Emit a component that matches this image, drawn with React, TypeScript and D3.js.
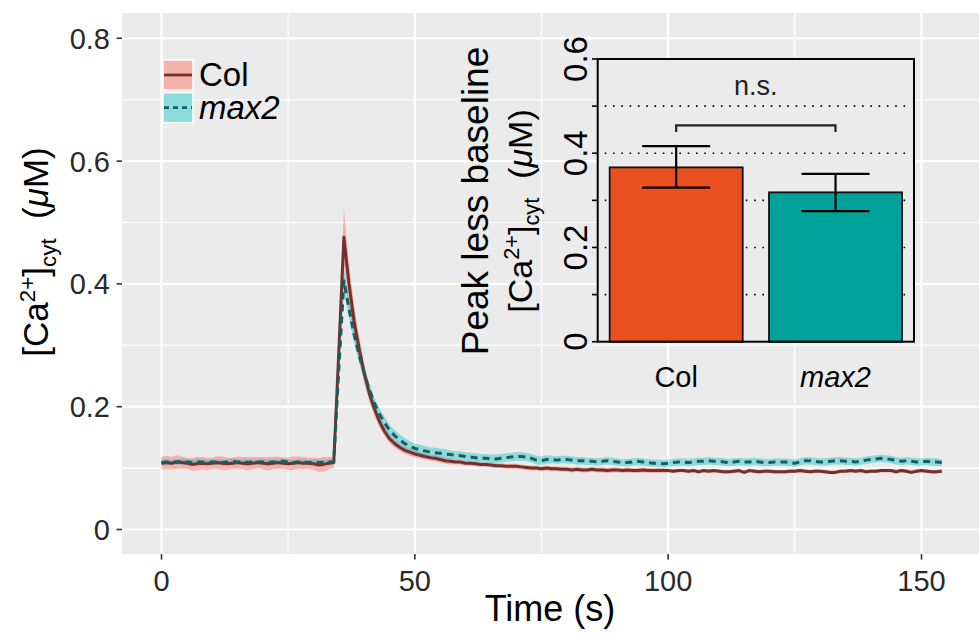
import React from "react";
import * as d3 from "d3";

// time course, one value per second (0..154 s)
const colMean = [
  0.108, 0.109, 0.108, 0.110, 0.109, 0.108, 0.106, 0.107, 0.108, 0.107,
  0.108, 0.109, 0.108, 0.107, 0.108, 0.109, 0.108, 0.107, 0.108, 0.109,
  0.108, 0.107, 0.108, 0.109, 0.108, 0.107, 0.108, 0.109, 0.108, 0.108,
  0.107, 0.105, 0.106, 0.108, 0.109, 0.292, 0.476, 0.400, 0.340, 0.295,
  0.255, 0.222, 0.197, 0.176, 0.160, 0.148, 0.140, 0.134, 0.129, 0.126,
  0.123, 0.121, 0.119, 0.117, 0.116, 0.114, 0.112, 0.111, 0.110, 0.110,
  0.108, 0.108, 0.107, 0.106, 0.106, 0.105, 0.104, 0.104, 0.103, 0.103,
  0.103, 0.102, 0.101, 0.100, 0.100, 0.099, 0.100, 0.099, 0.099, 0.098,
  0.098, 0.097, 0.098, 0.097, 0.097, 0.098, 0.097, 0.097, 0.096, 0.097,
  0.097, 0.096, 0.097, 0.096, 0.096, 0.097, 0.096, 0.096, 0.096, 0.096,
  0.096, 0.095, 0.096, 0.096, 0.095, 0.096, 0.094, 0.096, 0.095, 0.096,
  0.095, 0.094, 0.094, 0.095, 0.096, 0.093, 0.096, 0.095, 0.094, 0.095,
  0.095, 0.094, 0.094, 0.094, 0.095, 0.095, 0.096, 0.095, 0.094, 0.095,
  0.095, 0.094, 0.093, 0.093, 0.095, 0.095, 0.096, 0.095, 0.096, 0.094,
  0.095, 0.095, 0.096, 0.096, 0.096, 0.094, 0.096, 0.095, 0.093, 0.095,
  0.096, 0.095, 0.094, 0.094, 0.095,
];
const colSE = [
  0.010, 0.011, 0.010, 0.011, 0.010, 0.009, 0.010, 0.011, 0.010, 0.010,
  0.009, 0.010, 0.011, 0.010, 0.009, 0.010, 0.010, 0.011, 0.010, 0.009,
  0.010, 0.011, 0.010, 0.010, 0.009, 0.010, 0.011, 0.010, 0.010, 0.009,
  0.010, 0.011, 0.012, 0.010, 0.009, 0.030, 0.045, 0.034, 0.026, 0.020,
  0.016, 0.013, 0.011, 0.009, 0.008, 0.007, 0.007, 0.006, 0.006, 0.006,
  0.006, 0.005, 0.005, 0.005, 0.005, 0.005, 0.005, 0.005, 0.004, 0.004,
  0.004, 0.004, 0.004, 0.004, 0.004, 0.004, 0.004, 0.004, 0.004, 0.004,
  0.004, 0.004, 0.004, 0.004, 0.004, 0.004, 0.004, 0.004, 0.004, 0.004,
  0.004, 0.004, 0.004, 0.004, 0.004, 0.004, 0.004, 0.004, 0.004, 0.004,
  0.004, 0.004, 0.004, 0.004, 0.004, 0.004, 0.004, 0.004, 0.004, 0.004,
  0.003, 0.003, 0.003, 0.003, 0.003, 0.003, 0.003, 0.003, 0.003, 0.003,
  0.003, 0.003, 0.003, 0.003, 0.003, 0.003, 0.003, 0.003, 0.003, 0.003,
  0.003, 0.003, 0.003, 0.003, 0.003, 0.003, 0.003, 0.003, 0.003, 0.003,
  0.003, 0.003, 0.003, 0.003, 0.003, 0.003, 0.003, 0.003, 0.003, 0.003,
  0.003, 0.003, 0.003, 0.003, 0.003, 0.003, 0.003, 0.003, 0.003, 0.003,
  0.003, 0.003, 0.003, 0.003, 0.003,
];
const max2Mean = [
  0.109, 0.110, 0.109, 0.110, 0.111, 0.110, 0.109, 0.110, 0.110, 0.109,
  0.110, 0.110, 0.109, 0.110, 0.111, 0.110, 0.110, 0.109, 0.110, 0.110,
  0.110, 0.109, 0.110, 0.110, 0.111, 0.110, 0.109, 0.110, 0.110, 0.109,
  0.110, 0.109, 0.109, 0.110, 0.110, 0.262, 0.405, 0.360, 0.318, 0.284,
  0.255, 0.228, 0.206, 0.188, 0.174, 0.162, 0.153, 0.146, 0.140, 0.136,
  0.132, 0.130, 0.128, 0.126, 0.125, 0.124, 0.123, 0.122, 0.121, 0.120,
  0.119, 0.118, 0.117, 0.116, 0.116, 0.115, 0.115, 0.116, 0.117, 0.118,
  0.119, 0.119, 0.118, 0.116, 0.113, 0.112, 0.114, 0.114, 0.113, 0.114,
  0.114, 0.113, 0.112, 0.112, 0.111, 0.111, 0.110, 0.111, 0.112, 0.111,
  0.110, 0.109, 0.109, 0.110, 0.111, 0.110, 0.109, 0.108, 0.108, 0.107,
  0.108, 0.109, 0.110, 0.110, 0.109, 0.110, 0.111, 0.111, 0.112, 0.111,
  0.111, 0.110, 0.109, 0.110, 0.111, 0.110, 0.110, 0.111, 0.110, 0.109,
  0.109, 0.110, 0.110, 0.110, 0.109, 0.108, 0.110, 0.112, 0.112, 0.111,
  0.110, 0.110, 0.111, 0.112, 0.112, 0.111, 0.111, 0.110, 0.111, 0.113,
  0.114, 0.115, 0.116, 0.115, 0.114, 0.112, 0.111, 0.112, 0.111, 0.110,
  0.110, 0.111, 0.110, 0.110, 0.109,
];
const max2SE = [
  0.004, 0.005, 0.004, 0.004, 0.005, 0.004, 0.004, 0.005, 0.004, 0.004,
  0.004, 0.005, 0.004, 0.004, 0.005, 0.004, 0.004, 0.005, 0.004, 0.004,
  0.004, 0.005, 0.004, 0.004, 0.005, 0.004, 0.004, 0.005, 0.004, 0.004,
  0.004, 0.005, 0.004, 0.004, 0.004, 0.013, 0.018, 0.015, 0.013, 0.012,
  0.011, 0.011, 0.010, 0.010, 0.010, 0.009, 0.009, 0.009, 0.009, 0.008,
  0.008, 0.008, 0.008, 0.008, 0.008, 0.008, 0.008, 0.007, 0.007, 0.007,
  0.007, 0.007, 0.007, 0.007, 0.007, 0.007, 0.007, 0.007, 0.007, 0.007,
  0.007, 0.007, 0.007, 0.007, 0.007, 0.007, 0.007, 0.006, 0.006, 0.006,
  0.006, 0.006, 0.006, 0.006, 0.006, 0.006, 0.006, 0.006, 0.006, 0.006,
  0.006, 0.006, 0.006, 0.006, 0.006, 0.006, 0.006, 0.006, 0.006, 0.006,
  0.006, 0.006, 0.006, 0.006, 0.006, 0.006, 0.006, 0.006, 0.006, 0.006,
  0.006, 0.006, 0.006, 0.006, 0.006, 0.006, 0.006, 0.006, 0.006, 0.006,
  0.006, 0.006, 0.006, 0.006, 0.006, 0.006, 0.006, 0.006, 0.006, 0.006,
  0.006, 0.006, 0.006, 0.006, 0.006, 0.006, 0.006, 0.006, 0.006, 0.006,
  0.006, 0.006, 0.006, 0.006, 0.006, 0.006, 0.006, 0.006, 0.006, 0.006,
  0.006, 0.006, 0.006, 0.006, 0.006,
];

const xMajor = [0, 50, 100, 150];
const xMinor = [25, 75, 125];
const yMajor = [0, 0.2, 0.4, 0.6, 0.8];
const yMinor = [0.1, 0.3, 0.5, 0.7];

// inset bar chart
const barGroups = ["Col", "max2"];
const barMeans = [0.37, 0.317];
const barLow = [0.327, 0.277];
const barHigh = [0.415, 0.356];
const insetTicks = [0, 0.1, 0.2, 0.3, 0.4, 0.5, 0.6];
const insetLabels = [0, 0.2, 0.4, 0.6];
const insetGrid = [0.1, 0.2, 0.3, 0.4, 0.5];

const FONT = "'Liberation Sans', Arial, Helvetica, sans-serif";

const W = 979;
const H = 635;
const panel = { left: 122, right: 979, top: 12.9, bottom: 554.1 };

const x = d3.scaleLinear().domain([0, 150]).range([161.5, 921.5]);
const y = d3.scaleLinear().domain([0, 0.8]).range([529.5, 38.3]);

const series = [
  { key: "Col", mean: colMean, se: colSE, fill: "#F8766D", fillOp: 0.5, keyOp: 0.52, stroke: "#72302E", dash: null },
  { key: "max2", mean: max2Mean, se: max2SE, fill: "#00BFC4", fillOp: 0.4, keyOp: 0.42, stroke: "#1B5C60", dash: "7 5" },
];

const CaLabel = ({ size }: { size: number }) => {
  const small = size * 0.64;
  return (
    <>
      <tspan>[Ca</tspan>
      <tspan fontSize={small} dy={-size * 0.38}>2+</tspan>
      <tspan dy={size * 0.38}>]</tspan>
      <tspan fontSize={small} dy={size * 0.22}>cyt</tspan>
      <tspan dy={-size * 0.22}>{"\u00a0 ("}</tspan>
      <tspan fontStyle="italic">μ</tspan>
      <tspan>M)</tspan>
    </>
  );
};

const Inset = () => {
  const x0 = 597.7, x1 = 914, y0 = 59, y1 = 341.7;
  const iy = d3.scaleLinear().domain([0, 0.6]).range([y1, y0]);
  const band = d3.scaleBand().domain(barGroups).range([x0, x1]).paddingInner(0.165).paddingOuter(0.075);
  const fills = ["#E9501F", "#00A29A"];
  const c1 = band("Col")! + band.bandwidth() / 2;
  const c2 = band("max2")! + band.bandwidth() / 2;
  return (
    <g fontFamily={FONT}>
      <rect x={x0} y={y0} width={x1 - x0} height={y1 - y0} fill="#EBEBEB" />
      {insetGrid.map((v) => (
        <line key={v} x1={x0 + 7} x2={x1 - 6} y1={iy(v)} y2={iy(v)} stroke="#000" strokeWidth={1.6} strokeDasharray="1.6 6.7" />
      ))}
      {barGroups.map((g, i) => (
        <rect key={g} x={band(g)} y={iy(barMeans[i])} width={band.bandwidth()} height={iy(0) - iy(barMeans[i])}
          fill={fills[i]} stroke="#111" strokeWidth={1.8} />
      ))}
      {barGroups.map((g, i) => {
        const c = band(g)! + band.bandwidth() / 2;
        return (
          <g key={g} stroke="#000" strokeWidth={2.2}>
            <line x1={c} x2={c} y1={iy(barLow[i])} y2={iy(barHigh[i])} />
            <line x1={c - 34} x2={c + 34} y1={iy(barLow[i])} y2={iy(barLow[i])} />
            <line x1={c - 34} x2={c + 34} y1={iy(barHigh[i])} y2={iy(barHigh[i])} />
          </g>
        );
      })}
      <path d={`M${c1},${iy(0.445)}V${iy(0.459)}H${c2}V${iy(0.445)}`} fill="none" stroke="#222" strokeWidth={2.2} />
      <text x={(c1 + c2) / 2} y={95} textAnchor="middle" fontSize={27} fill="#222">n.s.</text>
      <rect x={x0} y={y0} width={x1 - x0} height={y1 - y0} fill="none" stroke="#000" strokeWidth={2} />
      {insetTicks.map((v) => (
        <line key={v} x1={592} x2={x0} y1={iy(v)} y2={iy(v)} stroke="#000" strokeWidth={1.6} />
      ))}
      {insetLabels.map((v) => (
        <text key={v} transform={`translate(587,${iy(v)}) rotate(-90)`} textAnchor="middle" fontSize={33} fill="#000">
          {v === 0 ? "0" : v.toFixed(1)}
        </text>
      ))}
      {barGroups.map((g) => (
        <text key={g} x={band(g)! + band.bandwidth() / 2} y={387} textAnchor="middle" fontSize={29}
          fontStyle={g === "max2" ? "italic" : "normal"} fill="#000">{g}</text>
      ))}
      <text transform="translate(488,201) rotate(-90)" textAnchor="middle" fontSize={37} fill="#000">Peak less baseline</text>
      <text transform="translate(532,211) rotate(-90)" textAnchor="middle" fontSize={34} fill="#000">
        <CaLabel size={34} />
      </text>
    </g>
  );
};

export default function App() {
  const area = (s: typeof series[0]) =>
    d3.area<number>()
      .x((_, i) => x(i))
      .y0((d, i) => y(d - s.se[i]))
      .y1((d, i) => y(d + s.se[i]))(s.mean) || "";
  const line = d3.line<number>().x((_, i) => x(i)).y((d) => y(d));

  return (
    <svg width={W} height={H} style={{ position: "absolute", left: 0, top: 0, background: "#fff" }} fontFamily={FONT}>
      <defs>
        <clipPath id="pclip">
          <rect x={panel.left} y={panel.top} width={panel.right - panel.left} height={panel.bottom - panel.top} />
        </clipPath>
      </defs>
      <rect x={panel.left} y={panel.top} width={panel.right - panel.left} height={panel.bottom - panel.top} fill="#EBEBEB" />
      {xMinor.map((v) => (
        <line key={"xm" + v} x1={x(v)} x2={x(v)} y1={panel.top} y2={panel.bottom} stroke="#fff" strokeWidth={1.1} />
      ))}
      {yMinor.map((v) => (
        <line key={"ym" + v} x1={panel.left} x2={panel.right} y1={y(v)} y2={y(v)} stroke="#fff" strokeWidth={1.1} />
      ))}
      {xMajor.map((v) => (
        <line key={"xM" + v} x1={x(v)} x2={x(v)} y1={panel.top} y2={panel.bottom} stroke="#fff" strokeWidth={2.2} />
      ))}
      {yMajor.map((v) => (
        <line key={"yM" + v} x1={panel.left} x2={panel.right} y1={y(v)} y2={y(v)} stroke="#fff" strokeWidth={2.2} />
      ))}

      <g clipPath="url(#pclip)">
        {series.map((s) => (
          <path key={s.key + "r"} d={area(s)} fill={s.fill} fillOpacity={s.fillOp} />
        ))}
        {series.map((s) => (
          <path key={s.key + "l"} d={line(s.mean) || ""} fill="none" stroke={s.stroke} strokeWidth={3}
            strokeDasharray={s.dash || undefined} strokeLinejoin="round" />
        ))}
      </g>

      {/* legend */}
      {series.map((s, i) => {
        const ky = 60 + i * 32.7;
        return (
          <g key={s.key}>
            <rect x={163} y={ky} width={30} height={30} fill="#F2F2F2" />
            <rect x={163} y={ky} width={30} height={30} fill={s.fill} fillOpacity={s.keyOp} stroke="#fff" strokeWidth={1.5} />
            <line x1={164} x2={192} y1={ky + 15} y2={ky + 15} stroke={s.stroke} strokeWidth={2.8} strokeDasharray={s.dash ? "5 4" : undefined} />
            <text x={199} y={ky + 26} fontSize={33} fontStyle={s.key === "max2" ? "italic" : "normal"} fill="#000">{s.key}</text>
          </g>
        );
      })}

      {/* axes */}
      {yMajor.map((v) => (
        <g key={"yt" + v}>
          <line x1={116.5} x2={panel.left} y1={y(v)} y2={y(v)} stroke="#333" strokeWidth={1.6} />
          <text x={110} y={y(v) + 10.5} textAnchor="end" fontSize={29} fill="#2a2a2a">{v === 0 ? "0" : v.toFixed(1)}</text>
        </g>
      ))}
      {xMajor.map((v) => (
        <g key={"xt" + v}>
          <line x1={x(v)} x2={x(v)} y1={panel.bottom} y2={panel.bottom + 5.5} stroke="#333" strokeWidth={1.6} />
          <text x={x(v)} y={591} textAnchor="middle" fontSize={29} fill="#2a2a2a">{v}</text>
        </g>
      ))}
      <text x={550} y={621} textAnchor="middle" fontSize={36} fill="#000">Time (s)</text>
      <text transform="translate(48,252) rotate(-90)" textAnchor="middle" fontSize={35} fill="#000">
        <CaLabel size={35} />
      </text>

      <Inset />
    </svg>
  );
}
